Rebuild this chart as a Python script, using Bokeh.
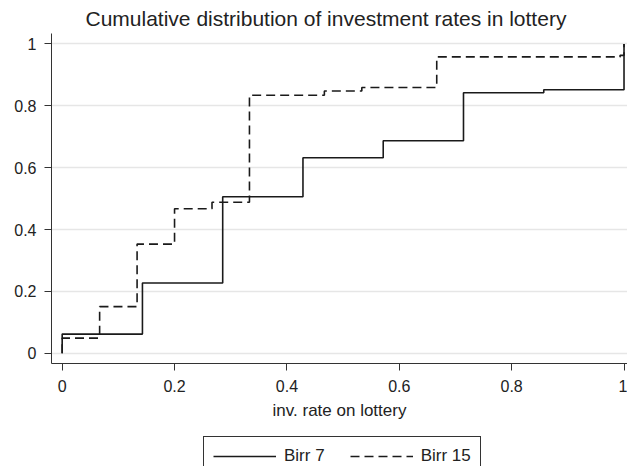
from bokeh.plotting import figure
from bokeh.layouts import column
from bokeh.models import Legend, LegendItem, FixedTicker, NumeralTickFormatter, Range1d
from bokeh.embed import file_html
from bokeh.resources import INLINE

birr7_x = [0, 0, 1/7, 2/7, 3/7, 4/7, 5/7, 6/7, 1]
birr7_y = [0, 0.062, 0.227, 0.506, 0.632, 0.687, 0.842, 0.852, 1.0]

birr15_x = [0, 0, 1/15, 2/15, 3/15, 4/15, 5/15, 7/15, 8/15, 10/15, 0.993, 1]
birr15_y = [0, 0.049, 0.151, 0.353, 0.467, 0.488, 0.834, 0.848, 0.859, 0.958, 0.963, 1.0]

ticks = [0, 0.2, 0.4, 0.6, 0.8, 1]
title_text = "Cumulative distribution of investment rates in lottery"
x_label = "inv. rate on lottery"
labels = ["Birr 7", "Birr 15"]

FONT = "Liberation Sans"
INK = "#1a1a1a"
W = 627

p = figure(width=W, height=425,
           x_range=Range1d(-0.019, 1.0062), y_range=Range1d(-0.033, 1.0337),
           output_backend="svg", toolbar_location=None,
           min_border_left=51, min_border_right=0, min_border_top=33, min_border_bottom=62)

p.background_fill_color = "white"
p.border_fill_color = "white"
p.outline_line_color = None

p.title.text = title_text
p.title.text_font = FONT
p.title.text_font_size = "21px"
p.title.text_font_style = "normal"
p.title.text_color = "#222222"
p.title.align = "left"
p.title.offset = 34
p.title.standoff = 7

r1 = p.step(birr7_x, birr7_y, mode="after", line_color=INK, line_width=1.6)
r2 = p.step(birr15_x, birr15_y, mode="after", line_color=INK, line_width=1.6, line_dash="9 5")

for ax in (p.xaxis[0], p.yaxis[0]):
    ax.ticker = FixedTicker(ticks=ticks)
    ax.formatter = NumeralTickFormatter(format="0.[0]")
    ax.minor_tick_line_color = None
    ax.major_tick_in = 0
    ax.major_tick_out = 7
    ax.axis_line_color = "#333333"
    ax.major_tick_line_color = "#333333"
    ax.major_label_text_font = FONT
    ax.major_label_text_font_size = "16px"
    ax.major_label_text_color = "#222222"
p.yaxis.major_label_standoff = 8
p.xaxis.major_label_standoff = 9

p.xaxis.axis_label = x_label
p.xaxis.axis_label_text_font = FONT
p.xaxis.axis_label_text_font_size = "17px"
p.xaxis.axis_label_text_font_style = "normal"
p.xaxis.axis_label_text_color = "#222222"
p.xaxis.axis_label_standoff = 6

p.xgrid.visible = False
p.ygrid.ticker = FixedTicker(ticks=ticks)
p.ygrid.grid_line_color = "#e6e6e6"
p.ygrid.grid_line_width = 1.5

# Legend strip below the chart: same series, kept out of its (empty) view,
# only their legend keys are shown.
lg = figure(width=W, height=41, title=None, x_range=Range1d(0, 1), y_range=Range1d(5, 6),
            output_backend="svg", toolbar_location=None,
            x_axis_type=None, y_axis_type=None,
            min_border_left=0, min_border_right=0, min_border_top=0, min_border_bottom=0)
lg.outline_line_color = None
lg.background_fill_color = "white"
lg.border_fill_color = "white"
lg.xgrid.visible = False
lg.ygrid.visible = False
k1 = lg.step(birr7_x, birr7_y, mode="after", line_color=INK, line_width=1.6)
k2 = lg.step(birr15_x, birr15_y, mode="after", line_color=INK, line_width=1.6, line_dash="9 5")

legend = Legend(items=[LegendItem(label=labels[0], renderers=[k1]),
                       LegendItem(label=labels[1], renderers=[k2])],
                location=(152, -10), orientation="horizontal",
                glyph_width=63, glyph_height=20, label_standoff=8, spacing=25,
                padding=9, margin=0, border_line_color="#333333", border_line_width=1,
                border_line_alpha=1,
                label_text_font=FONT, label_text_font_size="17px", label_text_color="#222222",
                background_fill_color="white", background_fill_alpha=1)
lg.add_layout(legend)

layout = column(p, lg, spacing=0)
open("out.html", "w").write(file_html(layout, INLINE))
